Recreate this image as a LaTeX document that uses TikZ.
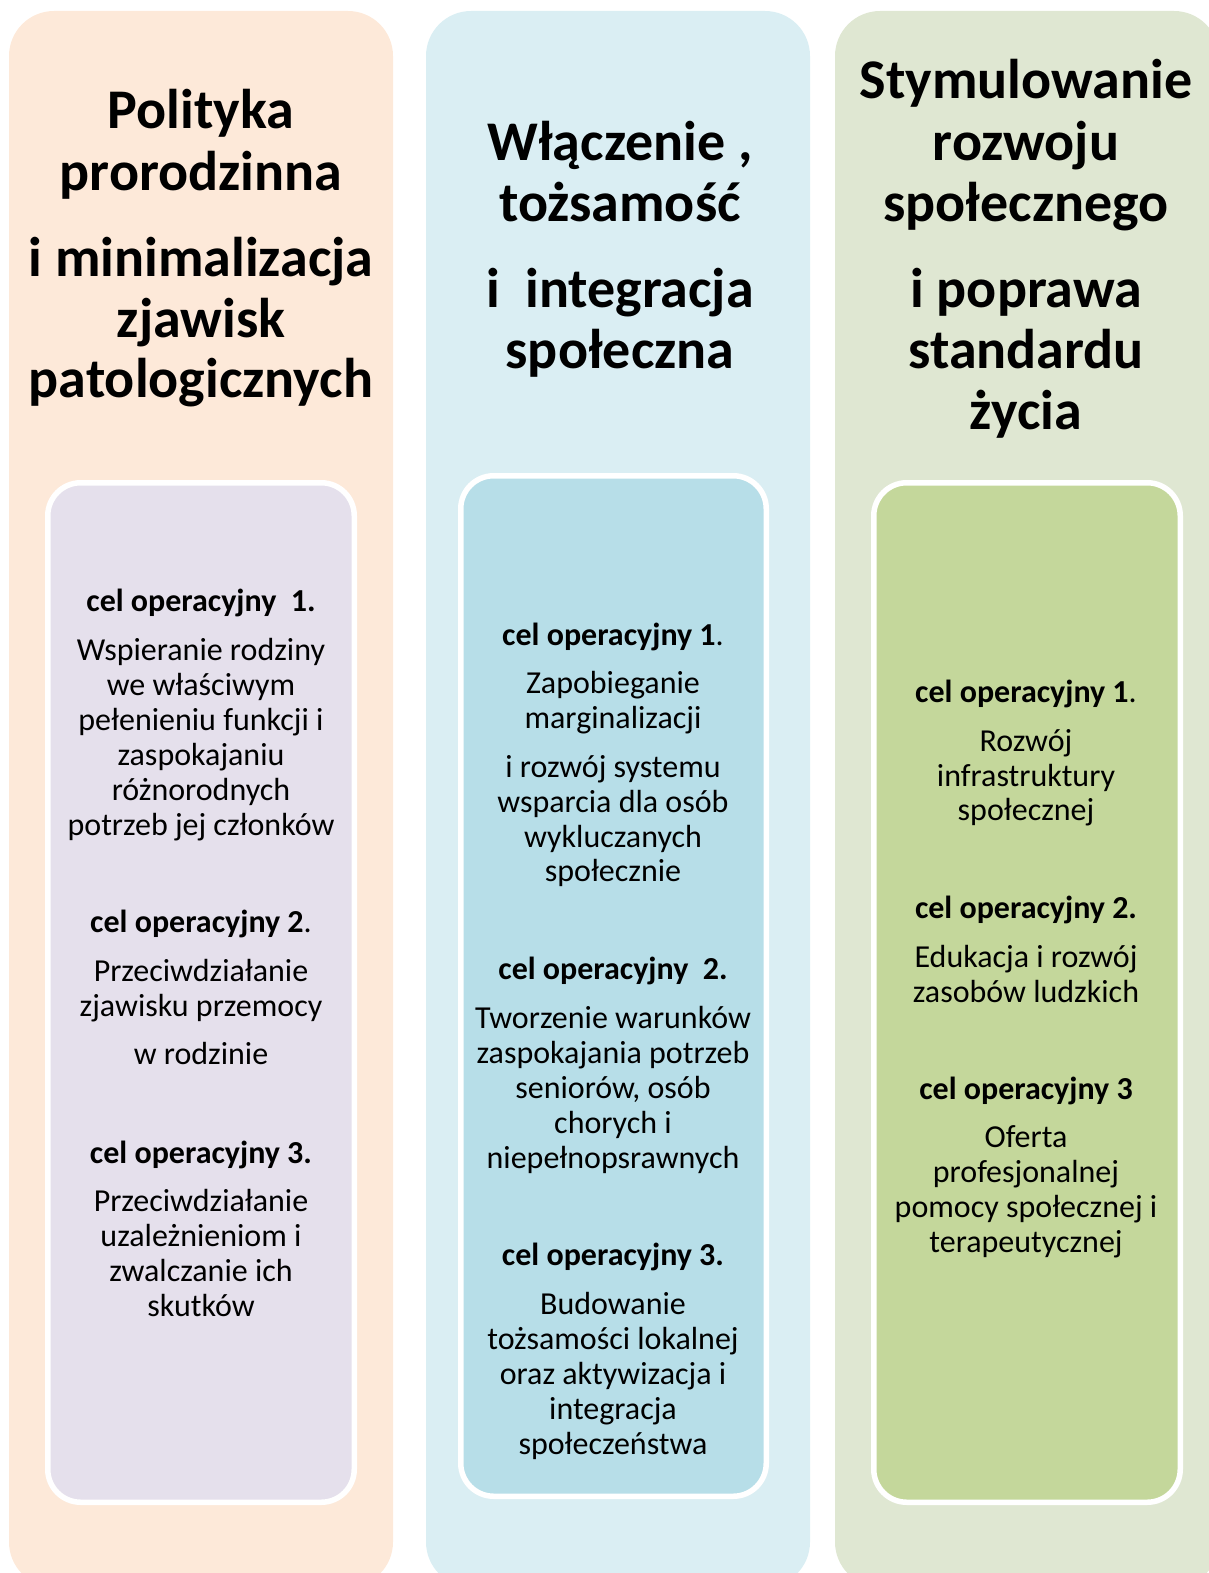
\documentclass[tikz,border=0pt]{standalone}
\usepackage{fontspec}
\setmainfont{Carlito}
\definecolor{peach}{HTML}{FDE9D9}
\definecolor{lav}{HTML}{E5E0EC}
\definecolor{paleblue}{HTML}{DAEEF3}
\definecolor{midblue}{HTML}{B7DEE8}
\definecolor{paleolive}{HTML}{DFE7D2}
\definecolor{olive}{HTML}{C4D79B}
\tikzset{
  outerbox/.style={rounded corners=45pt},
  innerbox/.style={draw=white, line width=5.5pt, rounded corners=33pt},
  ttl/.style={font=\fontsize{56}{61}\selectfont\bfseries, inner sep=0pt, anchor=base},
  bodytxt/.style={font=\fontsize{32}{35}\selectfont, inner sep=0pt, anchor=base},
}
\begin{document}
\begin{tikzpicture}[x=1pt,y=-1pt]
\useasboundingbox (0,0) rectangle (1209,1573);
% outer columns
\fill[peach, outerbox] (9,11) rectangle (393,1587);
\fill[paleblue, outerbox] (426,11) rectangle (810,1587);
\fill[paleolive, outerbox] (835,11) rectangle (1219,1587);
% inner boxes
\filldraw[fill=lav, innerbox] (47.75,482.75) rectangle (354.25,1502.25);
\filldraw[fill=midblue, innerbox] (460.75,475.75) rectangle (766.25,1496.25);
\filldraw[fill=olive, innerbox] (873.75,482.75) rectangle (1180.25,1502.25);
% titles
\foreach \y/\t [count=\i] in {129/{Polityka}, 191/{prorodzinna}, 276/{i minimalizacja}, 337/{zjawisk}, 397/{patologicznych}}
  \node[ttl] (ta\i) at (201,\y) {\t};
\foreach \y/\t [count=\i] in {161/{Włączenie ,}, 222/{tożsamość}, 307/{i\ \ integracja}, 368/{społeczna}}
  \node[ttl] (tb\i) at (620,\y) {\t};
\foreach \y/\t [count=\i] in {99/{Stymulowanie}, 161/{rozwoju}, 222/{społecznego}, 307/{i poprawa}, 368/{standardu}, 429/{życia}}
  \node[ttl] (tc\i) at (1026,\y) {\t};
% column 1 body
\foreach \y/\t [count=\i] in {
  611/{\textbf{cel operacyjny\ \ 1.}},
  660/{Wspieranie rodziny},
  695/{we właściwym},
  730/{pełenieniu funkcji i},
  765/{zaspokajaniu},
  800/{różnorodnych},
  835/{potrzeb jej członków},
  932/{\textbf{cel operacyjny 2}.},
  981/{Przeciwdziałanie},
  1016/{zjawisku przemocy},
  1064/{w rodzinie},
  1163/{\textbf{cel operacyjny 3.}},
  1211/{Przeciwdziałanie},
  1246/{uzależnieniom i},
  1281/{zwalczanie ich},
  1316/{skutków}}
  \node[bodytxt] (a\i) at (201,\y) {\t};
% column 2 body
\foreach \y/\t [count=\i] in {
  645/{\textbf{cel operacyjny 1}.},
  693/{Zapobieganie},
  728/{marginalizacji},
  777/{i rozwój systemu},
  812/{wsparcia dla osób},
  847/{wykluczanych},
  881/{społecznie},
  979/{\textbf{cel operacyjny\ \ 2.}},
  1028/{Tworzenie warunków},
  1063/{zaspokajania potrzeb},
  1098/{seniorów, osób},
  1133/{chorych i},
  1168/{niepełnopsrawnych},
  1265/{\textbf{cel operacyjny 3.}},
  1314/{Budowanie},
  1349/{tożsamości lokalnej},
  1384/{oraz aktywizacja i},
  1419/{integracja},
  1454/{społeczeństwa}}
  \node[bodytxt] (b\i) at (613,\y) {\t};
% column 3 body
\foreach \y/\t [count=\i] in {
  702/{\textbf{cel operacyjny 1}.},
  751/{Rozwój},
  786/{infrastruktury},
  820/{społecznej},
  918/{\textbf{cel operacyjny 2.}},
  967/{Edukacja i rozwój},
  1002/{zasobów ludzkich},
  1099/{\textbf{cel operacyjny 3}},
  1147/{Oferta},
  1182/{profesjonalnej},
  1217/{pomocy społecznej i},
  1252/{terapeutycznej}}
  \node[bodytxt] (c\i) at (1026,\y) {\t};
\end{tikzpicture}
\end{document}
